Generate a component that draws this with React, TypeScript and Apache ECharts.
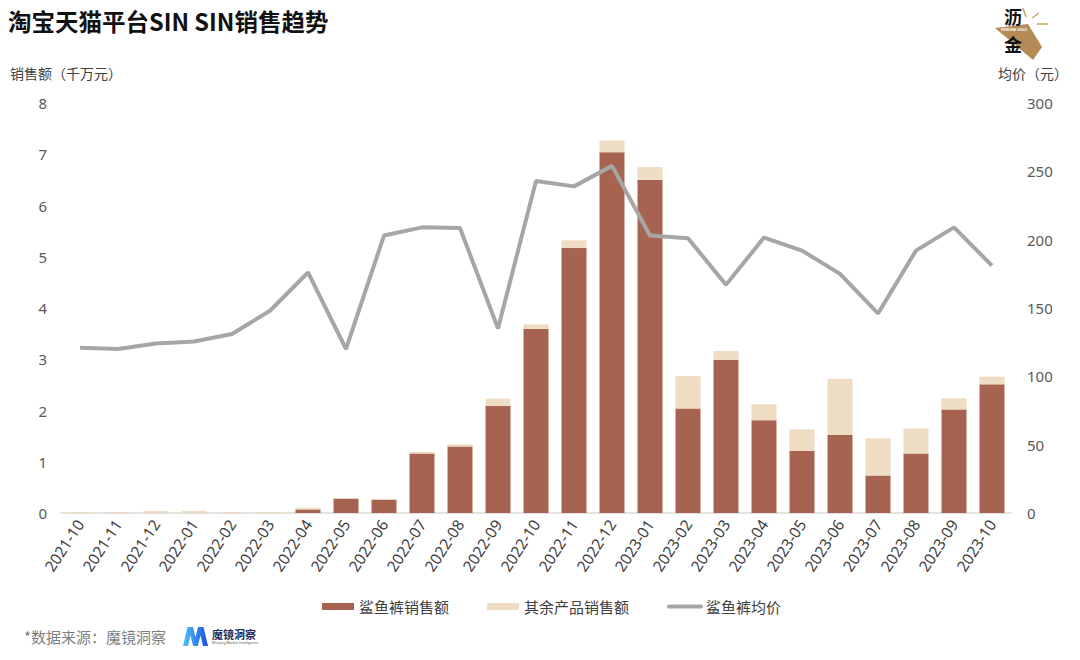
import React, { useEffect, useRef } from "react";
import * as echarts from "echarts";

const categories = [
  "2021-10", "2021-11", "2021-12", "2022-01", "2022-02", "2022-03", "2022-04",
  "2022-05", "2022-06", "2022-07", "2022-08", "2022-09", "2022-10", "2022-11",
  "2022-12", "2023-01", "2023-02", "2023-03", "2023-04", "2023-05", "2023-06",
  "2023-07", "2023-08", "2023-09", "2023-10",
];
const sharkSales = [
  0, 0, 0, 0, 0, 0, 0.07, 0.28, 0.26, 1.16, 1.3, 2.09, 3.59, 5.17, 7.04, 6.5,
  2.04, 2.99, 1.81, 1.21, 1.52, 0.73, 1.16, 2.02, 2.51,
];
const otherSales = [
  0.02, 0.02, 0.04, 0.04, 0.02, 0.02, 0.03, 0.01, 0.01, 0.03, 0.04, 0.14, 0.09,
  0.15, 0.23, 0.25, 0.63, 0.17, 0.31, 0.42, 1.1, 0.73, 0.49, 0.22, 0.15,
];
const avgPrice = [
  121, 120, 124, 125.5, 131, 148, 176, 120, 203, 209, 208.5, 135, 243, 239, 254,
  203, 201, 167, 201.5, 192, 175, 146, 192, 209, 181,
];
const leftTicks = { min: 0, max: 8, interval: 1 };
const rightTicks = { min: 0, max: 300, interval: 50 };

const FONT = "'Noto Sans', 'Noto Sans CJK SC', sans-serif";
const CJK = "'Noto Sans CJK SC', sans-serif";

export default function App() {
  const ref = useRef<HTMLDivElement>(null);
  useEffect(() => {
    if (!ref.current) return;
    const chart = echarts.init(ref.current, null, { renderer: "svg" });
    chart.setOption({
      animation: false,
      backgroundColor: "#ffffff",
      textStyle: { fontFamily: FONT },
      grid: { left: 61, right: 69, top: 103, bottom: 147, containLabel: false },
      legend: {
        left: 317,
        top: 594,
        itemWidth: 32,
        itemHeight: 7,
        itemGap: 38,
        textStyle: { fontSize: 15, color: "#404040", fontFamily: CJK },
        data: [
          { name: "鲨鱼裤销售额", icon: "rect" },
          { name: "其余产品销售额", icon: "rect" },
          {
            name: "鲨鱼裤均价",
            itemStyle: { opacity: 0 },
            lineStyle: { width: 4, color: "#A6A6A6", cap: "round" },
          },
        ],
      },
      xAxis: {
        type: "category",
        data: categories,
        axisLine: { lineStyle: { color: "#D9D9D9", width: 1.5 } },
        axisTick: { show: false },
        axisLabel: {
          interval: 0,
          rotate: 57,
          fontSize: 15.5,
          color: "#404040",
          margin: 8,
        },
      },
      yAxis: [
        {
          type: "value",
          ...leftTicks,
          splitLine: { show: false },
          axisLine: { show: false },
          axisTick: { show: false },
          axisLabel: { fontSize: 15, color: "#595959", margin: 14 },
        },
        {
          type: "value",
          ...rightTicks,
          position: "right",
          splitLine: { show: false },
          axisLine: { show: false },
          axisTick: { show: false },
          axisLabel: { fontSize: 15, color: "#595959", margin: 16 },
        },
      ],
      series: [
        {
          name: "鲨鱼裤销售额",
          type: "bar",
          stack: "total",
          barWidth: 25,
          data: sharkSales,
          itemStyle: { color: "#A66450" },
        },
        {
          name: "其余产品销售额",
          type: "bar",
          stack: "total",
          barWidth: 25,
          data: otherSales,
          itemStyle: { color: "#EEDDC2" },
        },
        {
          name: "鲨鱼裤均价",
          type: "line",
          yAxisIndex: 1,
          data: avgPrice,
          symbol: "none",
          lineStyle: { color: "#A6A6A6", width: 4 },
          itemStyle: { color: "#A6A6A6" },
        },
      ],
      graphic: [
        {
          type: "text",
          left: 8,
          top: 9,
          style: {
            text: "淘宝天猫平台SIN SIN销售趋势",
            font: `bold 23.5px ${CJK}`,
            fill: "#111111",
          },
        },
        {
          type: "text",
          left: 10,
          top: 66,
          style: { text: "销售额（千万元）", font: `14px ${CJK}`, fill: "#404040" },
        },
        {
          type: "text",
          right: 12,
          top: 66,
          style: { text: "均价（元）", font: `14px ${CJK}`, fill: "#404040" },
        },
        {
          type: "text",
          left: 24,
          top: 629,
          style: { text: "*数据来源：魔镜洞察", font: `15px ${CJK}`, fill: "#7F7F7F" },
        },
        {
          type: "polygon",
          shape: {
            points: [
              [183, 646], [187.5, 627], [193, 627], [195.5, 637], [198, 627],
              [203.5, 627], [208, 646], [203, 646], [200.5, 635.5], [197.8, 646],
              [193.2, 646], [190.5, 635.5], [188, 646],
            ],
          },
          style: {
            fill: new echarts.graphic.LinearGradient(0, 0, 1, 0, [
              { offset: 0, color: "#4FC3F7" },
              { offset: 1, color: "#1E4FE0" },
            ]),
          },
        },
        {
          type: "text",
          x: 212,
          y: 628,
          style: { text: "魔镜洞察", font: `bold 11px ${CJK}`, fill: "#1F2A5A" },
        },
        {
          type: "text",
          x: 212,
          y: 641,
          style: { text: "Moojing Market Intelligence", font: `3.5px ${FONT}`, fill: "#555" },
        },
        {
          type: "polygon",
          shape: { points: [[995, 28], [1028, 24], [1042, 47], [1033, 60]] },
          style: { fill: "#B48B55" },
        },
        {
          type: "line",
          shape: { x1: 1023, y1: 8, x2: 1026, y2: 17 },
          style: { stroke: "#C9A46C", lineWidth: 1.5 },
        },
        {
          type: "line",
          shape: { x1: 1032, y1: 18, x2: 1039, y2: 13 },
          style: { stroke: "#C9A46C", lineWidth: 1.5 },
        },
        {
          type: "line",
          shape: { x1: 1037, y1: 24, x2: 1048, y2: 24 },
          style: { stroke: "#C9A46C", lineWidth: 1.5 },
        },
        {
          type: "text",
          x: 1013,
          y: 16,
          style: {
            text: "沥",
            font: `bold 18px ${CJK}`,
            fill: "#111",
            align: "center",
            verticalAlign: "middle",
          },
        },
        {
          type: "text",
          x: 1014,
          y: 29.5,
          style: {
            text: "FINDING GOLD",
            font: `bold 3.5px ${FONT}`,
            fill: "#ffffff",
            align: "center",
            verticalAlign: "middle",
          },
        },
        {
          type: "text",
          x: 1013,
          y: 44,
          style: {
            text: "金",
            font: `bold 18px ${CJK}`,
            fill: "#111",
            align: "center",
            verticalAlign: "middle",
          },
        },
      ],
    });
    return () => chart.dispose();
  }, []);
  return (
    <div
      ref={ref}
      style={{ position: "absolute", left: 0, top: 0, width: 1080, height: 660 }}
    />
  );
}
